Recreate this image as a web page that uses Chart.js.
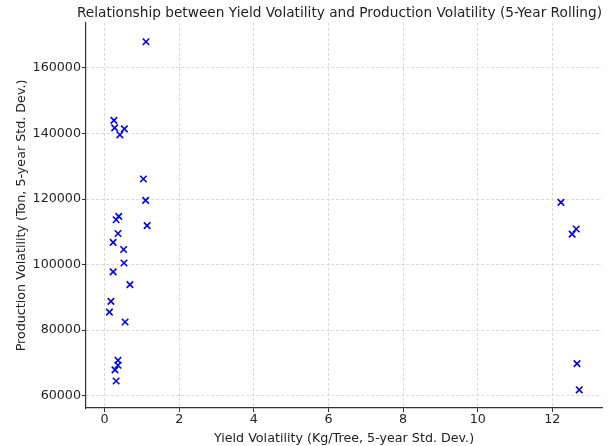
<!DOCTYPE html>
<html><head><meta charset="utf-8">
<script src="https://cdn.jsdelivr.net/npm/chart.js@4/dist/chart.umd.min.js"></script>
<style>html,body{margin:0;padding:0;background:#fff}#wrap{width:616px;height:446px}</style>
</head><body><div id="wrap"><canvas id="c" width="616" height="446"></canvas></div>
<script>
const yieldVolatility = [1.11, 0.25, 0.27, 0.41, 0.53, 1.04, 1.10, 0.38, 0.31, 1.14, 0.36, 0.23, 0.51, 0.52, 0.23, 0.68, 0.17, 0.13, 0.55, 0.36, 0.36, 0.28, 0.31, 12.23, 12.64, 12.53, 12.66, 12.72];
const productionVolatility = [168000, 144000, 141700, 139600, 141400, 126100, 119600, 114700, 113700, 111900, 109500, 106800, 104600, 100500, 97800, 93900, 88800, 85500, 82500, 70800, 69300, 67900, 64500, 119000, 110850, 109300, 69800, 61800];
const xTickValues = [0, 2, 4, 6, 8, 10, 12];
const yTickValues = [60000, 80000, 100000, 120000, 140000, 160000];
const xRange = [-0.498, 13.33];
const yRange = [56250, 173730];

const points = yieldVolatility.map((x, i) => ({x: x, y: productionVolatility[i]}));
const txt = '#222';
Chart.defaults.font.family = "'DejaVu Sans', sans-serif";
Chart.defaults.color = txt;

new Chart(document.getElementById('c'), {
  type: 'scatter',
  data: { datasets: [{
    data: points,
    pointStyle: 'crossRot',
    pointRadius: 4.6,
    pointHoverRadius: 4.6,
    borderColor: '#0000ff',
    backgroundColor: '#0000ff',
    pointBorderWidth: 1.6
  }]},
  options: {
    responsive: false,
    animation: false,
    devicePixelRatio: 1,
    layout: { padding: { left: 0, right: 14, top: 0, bottom: 0 } },
    plugins: {
      legend: { display: false },
      tooltip: { enabled: false },
      title: {
        display: true,
        text: 'Relationship between Yield Volatility and Production Volatility (5-Year Rolling)',
        align: 'end',
        color: txt,
        font: { size: 13.7, weight: 'normal' },
        padding: { top: 5, bottom: 1.5 }
      }
    },
    scales: {
      x: {
        type: 'linear',
        min: xRange[0], max: xRange[1],
        afterBuildTicks: a => { a.ticks = xTickValues.map(v => ({value: v})); },
        afterFit: a => { a.height = 38; },
        ticks: { font: { size: 12.7 }, color: txt, padding: 0, maxRotation: 0, callback: v => String(v) },
        grid: { color: '#cfcfcf', lineWidth: 0.8, tickColor: '#333', tickLength: 4, tickWidth: 1, tickBorderDash: [] },
        border: { display: true, color: '#333', width: 1.2, dash: [3, 2] },
        title: { display: true, text: 'Yield Volatility (Kg/Tree, 5-year Std. Dev.)', color: txt, font: { size: 12.7 }, padding: { top: 2, bottom: 0 } }
      },
      y: {
        type: 'linear',
        min: yRange[0], max: yRange[1],
        afterBuildTicks: a => { a.ticks = yTickValues.map(v => ({value: v})); },
        afterFit: a => { a.width = 86; },
        ticks: { font: { size: 12.7 }, color: txt, padding: 1, callback: v => String(v) },
        grid: { color: '#cfcfcf', lineWidth: 0.8, tickColor: '#333', tickLength: 4, tickWidth: 1, tickBorderDash: [] },
        border: { display: true, color: '#333', width: 1.2, dash: [3, 2] },
        title: { display: true, text: 'Production Volatility (Ton, 5-year Std. Dev.)', color: txt, font: { size: 12.7 }, padding: { top: 14.5, bottom: 0 } }
      }
    }
  }
});
</script>
</body></html>
